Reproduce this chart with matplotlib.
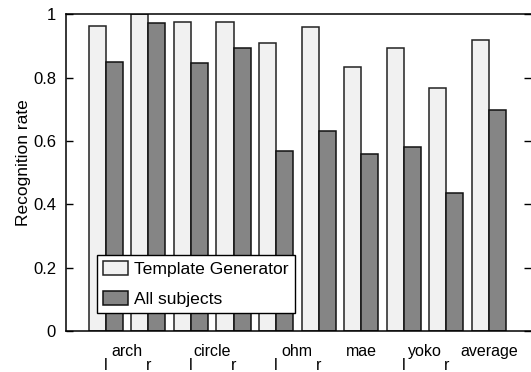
import numpy as np
import matplotlib
matplotlib.use("Agg")
import matplotlib.pyplot as plt

plt.rcParams['font.family'] = ['Liberation Sans', 'DejaVu Sans']

groups = ["arch l", "arch r", "circle l", "circle r", "ohm l", "ohm r",
          "mae", "yoko l", "yoko r", "average"]
template_gen = [0.964, 1.0, 0.974, 0.974, 0.909, 0.958, 0.832, 0.893, 0.768, 0.918]
all_subjects = [0.850, 0.971, 0.847, 0.892, 0.567, 0.630, 0.558, 0.581, 0.435, 0.699]

word_pos = [0.5, 2.5, 4.5, 6, 7.5, 9]
word_labels = ["arch", "circle", "ohm", "mae", "yoko", "average"]
side_pos = [0, 1, 2, 3, 4, 5, 7, 8]
side_labels = ["l", "r", "l", "r", "l", "r", "l", "r"]

fig = plt.figure(figsize=(5.31, 3.72), dpi=100)
ax = fig.add_axes([0.124, 0.110, 0.876, 0.852])

x = np.arange(len(groups))
w = 0.4
ax.bar(x - w / 2, template_gen, w, color="#f1f1f1", edgecolor="#222222",
       linewidth=1.1, label="Template Generator")
ax.bar(x + w / 2, all_subjects, w, color="#858585", edgecolor="#111111",
       linewidth=1.1, label="All subjects")

ax.set_xlim(-0.94, 9.99)
ax.set_ylim(0, 1)
ax.set_yticks([0, 0.2, 0.4, 0.6, 0.8, 1.0])
ax.set_yticklabels(["0", "0.2", "0.4", "0.6", "0.8", "1"], fontsize=12)
ax.tick_params(axis="y", direction="in", length=5, pad=7, right=True, width=1)
ax.set_ylabel("Recognition rate", fontsize=12.5)
ax.yaxis.set_label_coords(-0.075, 0.53)

ax.set_xticks(word_pos)
ax.set_xticklabels(word_labels, fontsize=11.5)
ax.set_xticks(side_pos, minor=True)
ax.set_xticklabels(side_labels, minor=True, fontsize=11.5)
ax.tick_params(axis="x", which="major", length=0, pad=9)
ax.tick_params(axis="x", which="minor", length=0, pad=19.5)

ax.spines["right"].set_visible(False)
for s in ["left", "bottom", "top"]:
    ax.spines[s].set_linewidth(1.1)

ax.legend(loc="lower left", bbox_to_anchor=(0.067, 0.057), borderaxespad=0,
          fontsize=12.6, fancybox=False, framealpha=1, edgecolor="black",
          handlelength=1.4, handleheight=0.8, labelspacing=0.8,
          handletextpad=0.35, borderpad=0.35)

fig.savefig("out.png", dpi=100)
